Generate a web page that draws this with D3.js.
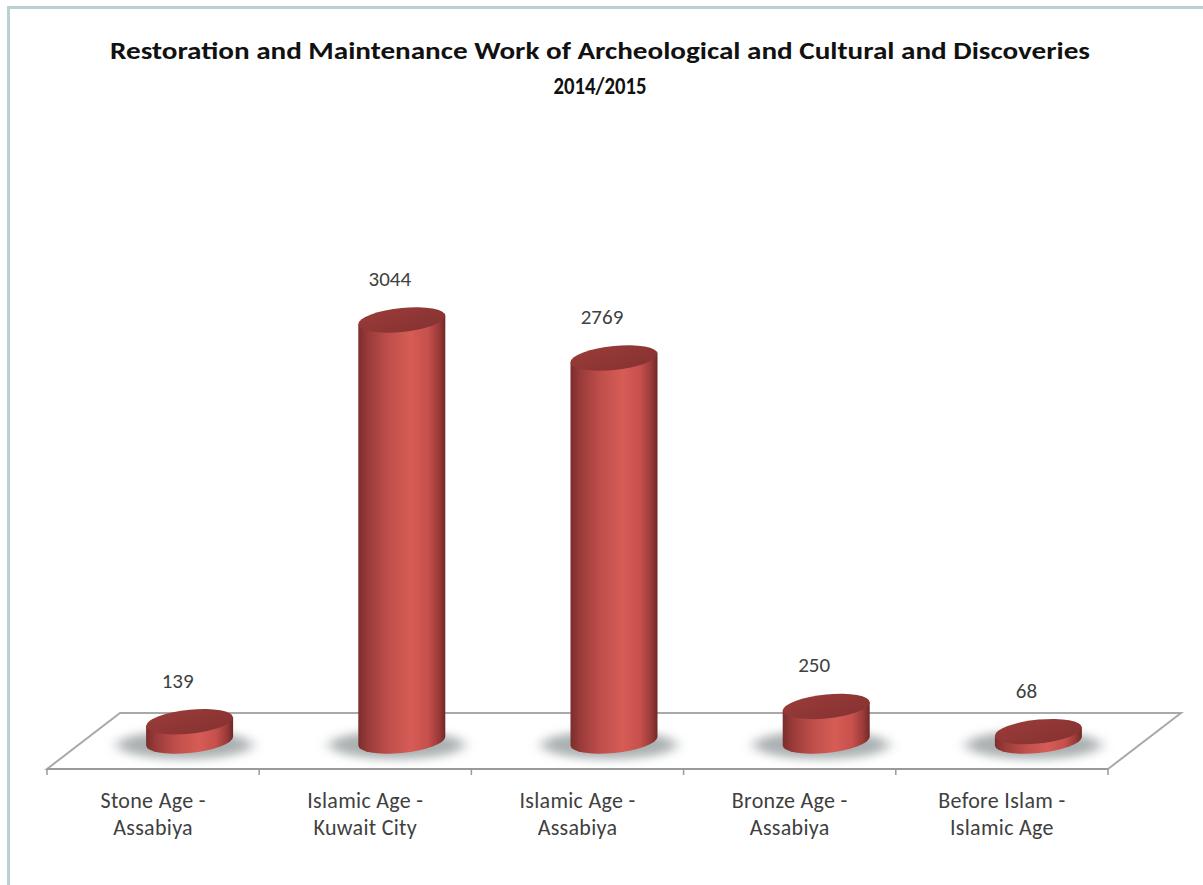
<!DOCTYPE html>
<html><head><meta charset="utf-8">
<script src="https://cdn.jsdelivr.net/npm/d3@7"></script>
<style>
html,body{margin:0;padding:0;background:#fff;}
svg{display:block;}
</style></head>
<body>
<svg id="chart" width="1203" height="885"></svg>
<script>
const titleLines = ["Restoration and Maintenance Work of Archeological and Cultural and Discoveries", "2014/2015"];
const categories = ["Stone Age - Assabiya", "Islamic Age - Kuwait City", "Islamic Age - Assabiya", "Bronze Age - Assabiya", "Before Islam - Islamic Age"];
const categoryLines = [["Stone Age -", "Assabiya"], ["Islamic Age -", "Kuwait City"], ["Islamic Age -", "Assabiya"], ["Bronze Age -", "Assabiya"], ["Before Islam -", "Islamic Age"]];
const values = [139, 3044, 2769, 250, 68];

const FONT = "Carlito, Lato, 'Open Sans', sans-serif";
const svg = d3.select("#chart");
const W = 1203, H = 885;

// geometry
const frontY = 769, backY = 713, depthX = 73;
const midY = (frontY + backY) / 2, midShift = depthX / 2;
const x = d3.scaleBand().domain(categories).range([47, 1108]).padding(0);
const y = d3.scaleLinear().domain([0, 3500]).range([midY, midY - 3500 * 0.1383]);

const defs = svg.append("defs");
const bodyGrad = defs.append("linearGradient").attr("id", "body").attr("x1", "0").attr("x2", "1").attr("y1", "0").attr("y2", "0");
[[0, "#7c2d2c"], [0.12, "#9b3c3a"], [0.35, "#bf4f4b"], [0.6, "#d75c56"], [0.8, "#c6504c"], [0.93, "#993a38"], [1, "#6f2827"]]
  .forEach(([o, c]) => bodyGrad.append("stop").attr("offset", o).attr("stop-color", c));
const topGrad = defs.append("linearGradient").attr("id", "top").attr("x1", "0").attr("x2", "1").attr("y1", "0").attr("y2", "1");
[[0, "#9a3b39"], [1, "#853231"]].forEach(([o, c]) => topGrad.append("stop").attr("offset", o).attr("stop-color", c));
const blur = defs.append("filter").attr("id", "blur").attr("x", "-50%").attr("y", "-100%").attr("width", "200%").attr("height", "300%");
blur.append("feGaussianBlur").attr("stdDeviation", "7 5");

// background + border
svg.append("rect").attr("width", W).attr("height", H).attr("fill", "#ffffff");
svg.append("path").attr("d", `M8.5,${H} L8.5,7.5 L${W},7.5`).attr("fill", "none").attr("stroke", "#bccfd5").attr("stroke-width", 3);

// title
titleLines.forEach((t, i) => {
  const tx = svg.append("text").attr("x", 600).attr("y", 59 + i * 35).attr("text-anchor", "middle")
    .attr("font-family", FONT).attr("font-weight", "bold").attr("font-size", 24).attr("fill", "#111").text(t);
  if (i === 0) tx.attr("textLength", 980).attr("lengthAdjust", "spacingAndGlyphs");
  else tx.attr("textLength", 93).attr("lengthAdjust", "spacingAndGlyphs");
});

// floor
const x0 = x.range()[0], x1 = x.range()[1];
svg.append("path")
  .attr("d", `M${x0},${frontY} L${x0 + depthX},${backY} L${x1 + depthX},${backY} L${x1},${frontY} Z`)
  .attr("fill", "#ffffff").attr("stroke", "#a9a9a9").attr("stroke-width", 2);
svg.append("line").attr("x1", x0).attr("x2", x1).attr("y1", frontY).attr("y2", frontY)
  .attr("stroke", "#9a9a9a").attr("stroke-width", 2.2);
const tickX = categories.map(c => x(c)).concat([x1]);
svg.selectAll(".tick").data(tickX).enter().append("line")
  .attr("x1", d => d).attr("x2", d => d).attr("y1", frontY).attr("y2", frontY + 6)
  .attr("stroke", "#9a9a9a").attr("stroke-width", 1.5);

const rx = 43.5, ry = 12;
const cx = c => x(c) + x.bandwidth() / 2 + midShift;

// shadows
svg.selectAll(".shadow").data(categories).enter().append("ellipse")
  .attr("cx", c => cx(c) - 5).attr("cy", midY + 4).attr("rx", rx + 24).attr("ry", ry + 2)
  .attr("fill", "#8f9698").attr("opacity", 0.75).attr("filter", "url(#blur)");

// cylinders
const cyl = svg.selectAll(".cyl").data(categories).enter().append("g")
  .attr("transform", c => `translate(${cx(c)},0) skewY(-5.5)`);
cyl.append("path").attr("d", (c, i) => {
  const yt = y(values[i]), yb = y(0);
  return `M${-rx},${yt} L${-rx},${yb} A${rx},${ry} 0 0 0 ${rx},${yb} L${rx},${yt} Z`;
}).attr("fill", "url(#body)");
cyl.append("ellipse").attr("cx", 0).attr("cy", (c, i) => y(values[i])).attr("rx", rx).attr("ry", ry)
  .attr("fill", "url(#top)");

// value labels
svg.selectAll(".val").data(categories).enter().append("text")
  .attr("x", c => cx(c) - 12).attr("y", (c, i) => y(values[i]) - 34)
  .attr("text-anchor", "middle").attr("font-family", FONT).attr("font-size", 21).attr("fill", "#404040")
  .text((c, i) => values[i]);

// category labels
categories.forEach((c, i) => {
  categoryLines[i].forEach((ln, j) => {
    svg.append("text").attr("x", x(c) + x.bandwidth() / 2).attr("y", 808 + j * 27)
      .attr("text-anchor", "middle").attr("font-family", FONT).attr("font-size", 22).attr("letter-spacing", 0.3)
      .attr("fill", "#404040").text(ln);
  });
});
</script>
</body></html>
